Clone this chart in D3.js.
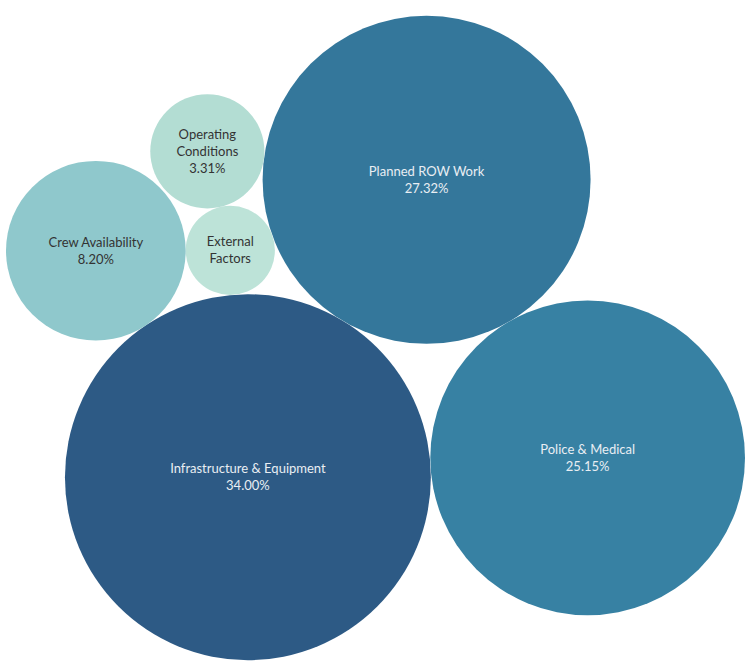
<!DOCTYPE html>
<html>
<head>
<meta charset="utf-8">
<script src="https://cdn.jsdelivr.net/npm/d3@7"></script>
<style>
  html, body { margin: 0; padding: 0; background: #fff; }
  svg { display: block; }
  text { font-family: Lato, "Open Sans", sans-serif; font-size: 13px; }
</style>
</head>
<body>
<script>
// categories in packing order (largest three first, then the small ones)
var categories = ["Infrastructure & Equipment", "Planned ROW Work", "Police & Medical",
                  "External Factors", "Crew Availability", "Operating Conditions"];
var shares = [34.00, 27.32, 25.15, 2.02, 8.20, 3.31];
var labelLines = [["Infrastructure & Equipment"], ["Planned ROW Work"], ["Police & Medical"],
                  ["External", "Factors"], ["Crew Availability"], ["Operating", "Conditions"]];
var showShare = [true, true, true, false, true, true];
var colors = ["#2d5a85", "#34779b", "#3781a3", "#bde3d8", "#8fc8cc", "#b3ddd3"];
var textColors = ["#e9eef3", "#e9eef3", "#e9eef3", "#333333", "#333333", "#333333"];

function init () {
  'use strict';
  var w = 753;
  var h = 666;
  var tilt = -59 * Math.PI / 180;

  var rScale = d3.scaleSqrt()
    .domain([0, d3.max(shares)])
    .range([0, 100]);

  var nodes = shares.map(function(d, i) {
    return { i: i, value: d, r: rScale(d) };
  });
  d3.packSiblings(nodes);

  // turn the pack so the biggest bubble sits bottom-left
  nodes.forEach(function(n) {
    var x = n.x, y = n.y;
    n.x = x * Math.cos(tilt) - y * Math.sin(tilt);
    n.y = x * Math.sin(tilt) + y * Math.cos(tilt);
  });

  var x0 = d3.min(nodes, function(n) { return n.x - n.r; });
  var x1 = d3.max(nodes, function(n) { return n.x + n.r; });
  var y0 = d3.min(nodes, function(n) { return n.y - n.r; });
  var y1 = d3.max(nodes, function(n) { return n.y + n.r; });
  var k = Math.min((w - 14) / (x1 - x0), (h - 14) / (y1 - y0));
  var ox = (w - (x1 - x0) * k) / 2 - 1;
  var oy = (h - (y1 - y0) * k) / 2 + 5;

  var xScale = d3.scaleLinear().domain([x0, x1]).range([ox, ox + (x1 - x0) * k]);
  var yScale = d3.scaleLinear().domain([y0, y1]).range([oy, oy + (y1 - y0) * k]);

  var svg = d3.select("body")
    .append("svg")
    .attr("width", w)
    .attr("height", h);

  var g = svg.selectAll("g.bubble")
    .data(nodes)
    .enter()
    .append("g")
    .attr("class", "bubble")
    .attr("transform", function(d) {
      return "translate(" + xScale(d.x) + "," + yScale(d.y) + ")";
    });

  g.append("circle")
    .attr("r", function(d) { return d.r * k; })
    .attr("fill", function(d) { return colors[d.i]; });

  g.each(function(d) {
    var lines = labelLines[d.i].slice();
    if (showShare[d.i]) lines.push(d3.format(".2f")(shares[d.i]) + "%");
    var lh = 17;
    d3.select(this).selectAll("text")
      .data(lines)
      .enter()
      .append("text")
      .attr("text-anchor", "middle")
      .attr("dy", "0.35em")
      .attr("y", function(t, j) { return (j - (lines.length - 1) / 2) * lh; })
      .attr("fill", textColors[d.i])
      .text(function(t) { return t; });
  });
}

window.onload = init;
</script>
</body>
</html>
